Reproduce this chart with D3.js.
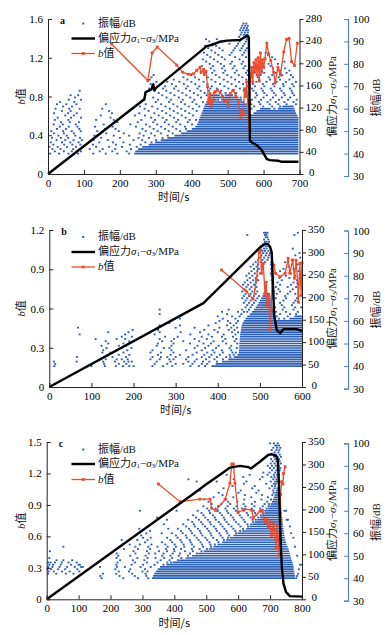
<!DOCTYPE html>
<html><head><meta charset="utf-8">
<script src="https://cdn.jsdelivr.net/npm/d3@7"></script>
<style>html,body{margin:0;padding:0;background:#fff;} svg{display:block}</style>
</head><body>
<svg id="chart" width="392" height="635"></svg>
<script>
// ---------------- DATA ----------------
const panelLabels = ["a", "b", "c"];
const timeTicksA = [0,100,200,300,400,500,600,700];
const timeTicksB = [0,100,200,300,400,500,600];
const timeTicksC = [0,100,200,300,400,500,600,700,800];
const bTicksA = [0,0.4,0.8,1.2,1.6];
const bTicksB = [0,0.3,0.6,0.9,1.2];
const bTicksC = [0,0.3,0.6,0.9,1.2,1.5];
const stressTicksA = [0,40,80,120,160,200,240,280];
const stressTicksB = [0,50,100,150,200,250,300,350];
const stressTicksC = [0,50,100,150,200,250,300,350];
const ampTicks = [30,40,50,60,70,80,90,100];
const legendLabels = ["振幅/dB", "偏应力", "b值"];

// deviatoric stress (t [s], MPa)
const stressA = [[0,0],[268,135],[272,148],[288,153],[293,162],[296,151],[300,155],[442,231],[460,234],[479,239],[498,241],[535,242],[549,248],[556,250],[559,246],[562,60],[570,56],[581,52],[595,43],[609,27],[618,25],[640,24],[650,22],[697,22]];
const stressB = [[0,0],[366,187],[430,246],[500,311],[512,319],[520,318],[524,313],[528,300],[531,230],[534,160],[540,127],[548,120],[556,129],[587,129],[600,125]];
const stressC = [[0,0],[460,235],[500,256],[543,277],[574,293],[606,297],[632,294],[640,291],[668,306],[694,321],[705,323],[719,319],[724,310],[727,270],[730,200],[733,130],[737,70],[742,35],[750,16],[762,7],[800,6]];

// b value (t [s], b)
const bValA = [[177,1.342],[278,0.965],[290,1.25],[304,1.31],[358,1.125],[375,1.05],[390,1.03],[405,1.035],[414,1.07],[423,1.10],[426,1.05],[433,1.08],[435,1.04],[440,1.06],[444,0.90],[447,0.73],[451,0.83],[454,0.695],[459,0.76],[465,0.85],[472,0.865],[479,0.84],[486,0.80],[491,0.745],[497,0.765],[502,0.695],[507,0.83],[516,0.865],[523,0.80],[530,0.745],[535,0.575],[539,0.66],[543,0.62],[547,0.88],[550,0.80],[553,0.95],[556,0.72],[559,0.47],[561,0.75],[564,1.00],[567,1.10],[570,0.95],[573,1.15],[576,1.05],[579,1.18],[582,1.02],[585,1.20],[588,0.96],[591,1.25],[594,1.05],[597,1.18],[600,1.10],[604,1.19],[609,1.35],[614,1.24],[620,1.17],[628,1.05],[632,0.94],[640,1.10],[647,1.02],[656,1.26],[664,1.39],[671,1.40],[678,1.16],[686,1.12],[694,1.35]];
const bValB = [[409,0.894],[465,0.74],[484,0.672],[492,0.818],[498,1.034],[502,1.047],[504,0.869],[508,0.945],[512,0.716],[515,0.80],[517,0.614],[521,0.70],[524,0.436],[527,0.588],[530,0.945],[533,0.93],[537,0.869],[548,0.843],[560,0.869],[567,0.984],[571,0.869],[578,0.971],[582,0.831],[586,0.97],[590,0.793],[591,0.652],[595,0.945],[598,0.70],[600,0.95]];
const bValC = [[350,1.10],[418,0.931],[480,0.955],[512,0.955],[517,0.868],[530,0.845],[559,0.953],[574,1.106],[580,1.29],[585,1.29],[590,1.106],[600,0.83],[621,0.86],[642,0.85],[648,0.78],[668,0.84],[676,0.85],[684,0.73],[689,0.76],[694,0.69],[699,0.74],[705,0.61],[710,0.72],[714,0.66],[718,0.49],[722,0.70],[726,0.55],[728,0.42],[733,1.0],[736,1.121],[740,1.10],[742,1.20],[747,1.264]];

// amplitude: dense rows of hits [dB, t start, t end]
const ampRowsA = [[40,240,697],[41,243,697],[42,250,697],[43,262,697],[44,280,697],[45,298,697],[46,314,697],[47,332,697],[48,352,697],[49,370,697],[50,386,697],[51,400,697],[52,410,697],[53,415,697],[54,418,697],[55,420,697],[56,422,697],[57,425,694],[58,428,560],[58,572,690],[59,430,558],[59,580,688],[60,432,556],[60,590,620],[60,640,686],[61,435,554],[61,652,684],[62,437,552],[63,440,548],[64,443,470],[64,482,540],[65,447,530],[66,452,478],[66,492,515]];
const ampRowsB = [[40,385,600],[41,395,600],[42,410,600],[43,425,600],[44,438,600],[45,447,600],[46,450,600],[47,450,600],[48,451,600],[49,451,600],[50,451,600],[51,452,600],[52,452,600],[53,453,600],[54,453,600],[55,454,600],[56,455,600],[57,456,600],[58,457,600],[59,459,600],[60,462,600],[61,466,535],[61,570,600],[62,470,534],[62,582,600],[63,476,533],[64,481,532],[65,486,531],[66,490,530],[67,494,529],[68,497,528],[69,500,527],[70,503,526],[71,506,525],[72,508,524]];
const ampRowsC = [[40,330,778],[41,333,778],[42,337,776],[43,342,776],[44,348,774],[45,355,774],[46,375,772],[47,395,770],[48,415,768],[49,435,766],[50,455,764],[51,475,762],[52,492,760],[53,508,758],[54,522,755],[55,535,752],[56,550,750],[57,562,748],[58,574,746],[59,585,745],[60,598,744],[61,612,743],[62,625,742],[63,636,741],[64,645,740],[65,652,739],[66,660,739],[67,668,738],[68,675,737],[69,682,737],[70,688,736],[71,694,736],[72,698,735],[73,702,735],[74,706,734],[75,709,734],[76,712,733],[77,714,733],[78,716,732],[79,718,732],[80,720,731]];

// amplitude: isolated hits, per dB level [dB, [t ...]]
const ampDotRowsA = [
[40,[6,31,57,84,126,161,193,226]],
[41,[19,44,66,92,144,179,219]],
[42,[12,35,70,116,152,187,231]],
[43,[4,27,53,78,134,170,206,247]],
[44,[15,45,68,90,125,189,228,258]],
[45,[8,39,62,85,143,181,210,271,288]],
[46,[24,48,71,94,127,166,238,262,301]],
[47,[11,36,56,89,148,200,252,281,319]],
[48,[29,52,76,129,183,226,266,297,333]],
[49,[17,44,72,162,211,255,287,314,347]],
[50,[9,42,66,91,137,197,272,305,336,368]],
[51,[25,50,87,159,188,263,294,326,357,384]],
[52,[33,58,82,131,180,245,283,315,347,381]],
[53,[16,41,77,155,229,273,304,336,368,401]],
[54,[36,61,86,193,250,293,325,357,389]],
[55,[19,57,134,183,260,298,330,362,394,412]],
[56,[27,64,92,174,287,319,351,383]],
[57,[48,72,147,242,270,308,340,372,404]],
[58,[17,56,80,178,254,296,329,361,393]],
[59,[39,63,170,280,318,350,382,414]],
[60,[21,59,88,151,269,305,339,371,403,566,630]],
[61,[42,67,256,290,327,360,392,421,574,599,624,646]],
[62,[25,51,79,161,272,315,349,381,413,566,591,617,641,664,690]],
[63,[33,73,300,337,370,402,431,587,611,634,658,683]],
[64,[58,92,268,306,342,375,407,474,568,593,619,643,668,692]],
[65,[75,293,330,364,396,426,536,577,600,626,651,674]],
[66,[63,84,318,352,385,417,442,484,522,551,582,609,634,659,685]],
[67,[270,308,341,374,406,436,462,494,524,553,579,602,629,656,680]],
[68,[88,297,329,363,395,425,448,482,513,545,572,598,624,650,678]],
[69,[282,320,351,384,416,452,470,502,534,568,594,620,646,674]],
[70,[290,326,356,389,421,456,491,523,554,576,602,630,656,684]],
[71,[286,314,345,378,410,444,479,511,543,570,598,626,654,680]],
[72,[302,332,366,399,433,466,500,532,580,608,636,662,690]],
[73,[283,350,388,420,455,489,521,552,588,618,646,672]],
[74,[288,377,409,445,477,510,541,584,614,642,682]],
[75,[294,398,435,467,499,531,556,592,624,652,676]],
[76,[426,457,488,520,551,602,634,664]],
[77,[432,463,493,525,555,596,646,672]],
[78,[453,485,514,544,592,626,660]],
[79,[428,459,490,519,549,600,620]],
[80,[450,481,508,539,614,640]],
[81,[440,472,512,543,590,658]],
[82,[431,462,492,533,604,632]],
[83,[452,484,521,551,624]],
[84,[443,474,506,541,612]],
[85,[434,465,511,546,606]],
[86,[455,486,516,535,550]],
[87,[446,477,520,539,554]],
[88,[437,468,525,543]],
[89,[458,505,529,547]],
[90,[449,480,533,551]],
[91,[440,470,537,553]],
[92,[532,549,555]],
[93,[536,545,552]],
[94,[539,548,556]],
[95,[535,543,551,557]],
[96,[538,546,554]],
[97,[541,549,556]],
[98,[544,552]]];

const ampDotRowsB = [
[40,[12,100,132,158,175,190,200,245,270,292,335,355,370]],
[41,[14,130,165,183,250,280,300,318,340,362,375]],
[42,[11,65,128,156,178,188,196,255,288,330,345,365,380,398]],
[43,[134,160,172,186,240,262,285,295,325,350,372,392,412]],
[44,[66,130,150,182,245,265,280,300,330,362,380,398,420,430]],
[45,[138,165,190,258,288,310,340,368,385,405,428,438]],
[46,[126,145,176,240,265,295,350,375,392,412,435,443]],
[47,[128,160,185,245,290,325,362,388,410,432]],
[48,[136,172,195,272,285,345,370,396,428,445]],
[49,[124,165,182,255,290,352,378,402,432]],
[50,[140,176,258,295,334,366,384,420,446]],
[51,[134,190,268,290,318,356,390,412,440]],
[52,[110,160,180,262,296,345,374,418,444]],
[53,[172,196,275,305,362,386,410,436]],
[54,[72,180,250,335,378,414,442]],
[55,[140,188,262,312,358,400,434,448]],
[56,[198,258,368,392,426,440]],
[57,[68,300,345,404,432,446]],
[58,[262,310,378,422,438]],
[59,[285,395,430,444]],
[60,[404,424,448]],
[61,[310,412,442,545,558]],
[62,[400,434,452,540,566]],
[63,[262,422,456,548,572,586]],
[64,[410,448,462,470,538,562,590]],
[65,[262,426,458,474,554,580]],
[66,[466,478,536,558,584,598]],
[67,[470,482,552,576]],
[68,[462,474,486,548,580,592]],
[69,[466,478,490,556,584]],
[70,[458,470,482,494,538,562,588]],
[71,[462,474,486,498,532,560,592]],
[72,[466,478,490,540,566,584]],
[73,[458,470,482,494,534,548,572]],
[74,[462,476,488,544,578]],
[75,[468,480,492,538,566,586]],
[76,[460,472,486,548,574,592]],
[77,[464,478,490,542,580]],
[78,[470,484,496,528,552,588]],
[79,[476,490,532,546,570]],
[80,[468,482,494,528,562,584]],
[81,[474,488,500,526,538,574]],
[82,[480,494,530,548,592]],
[83,[486,498,527,556,580]],
[84,[478,492,504,529,568]],
[85,[484,496,508,526,590]],
[86,[490,502,512,528,560]],
[87,[496,506,518,576]],
[88,[500,510,520,596]],
[89,[504,514,522,584]],
[90,[498,508,516,524,594]],
[91,[506,512,520]],
[92,[510,516,578]],
[93,[502,514,520]],
[94,[508,518]],
[95,[512,516,522]],
[96,[510,520]],
[97,[514,518]],
[98,[470,512,516,582]],
[99,[510,514,518,590]]];

const ampDotRowsC = [
[40,[172,240,286,318,782]],
[41,[168,228,276,312,784]],
[42,[4,30,60,84,176,218,268,310,788]],
[43,[6,22,48,72,102,226,258,300,316]],
[44,[3,14,36,58,96,215,262,308,790]],
[45,[5,18,40,64,88,108,113,167,220,245,294,326]],
[46,[8,20,44,76,100,104,218,266,302,338,366,794,798]],
[47,[5,12,26,47,68,94,222,276,314,347,378,390]],
[48,[31,52,80,230,270,306,357,385,411]],
[49,[8,219,284,316,341,368,393,422]],
[50,[224,262,310,362,388,414,443,785]],
[51,[219,278,320,340,366,395,418,449,471]],
[52,[10,272,314,352,377,400,433,458,485]],
[53,[242,286,324,374,399,421,455,479,502]],
[54,[52,278,318,347,379,405,431,461,490,515,778]],
[55,[260,292,328,372,401,429,455,487,513,527]],
[56,[308,361,393,423,451,482,510,538]],
[57,[235,284,316,388,419,448,476,503,533,555]],
[58,[302,326,377,410,439,470,497,522,551,568,773]],
[59,[296,405,436,463,488,516,545,572]],
[60,[312,360,392,426,455,483,513,541,566,593,766]],
[61,[324,421,451,480,508,533,563,591,606]],
[62,[290,381,411,446,474,503,530,557,585,615]],
[63,[437,464,496,524,551,579,607,631,762]],
[64,[367,428,461,489,514,545,570,601,629,641]],
[65,[456,484,511,539,564,593,621,647]],
[66,[377,443,477,505,530,558,587,617,645,655,752,756]],
[67,[346,468,497,527,555,583,611,639,663]],
[68,[459,491,521,549,577,605,631,657,671]],
[69,[485,512,543,569,599,627,653,677]],
[70,[292,407,473,509,537,565,593,618,649,673,685,745,750]],
[71,[503,529,560,587,612,643,669,689]],
[72,[491,537,567,595,623,651,677,695]],
[73,[517,547,575,617,643,683,697]],
[74,[423,507,569,597,653,691]],
[75,[494,563,619,673,703]],
[76,[523,585,641,693]],
[77,[551,621,675,707]],
[78,[539,601,657,711]],
[79,[480,608,664,710]],
[80,[554,644,698,714]],
[81,[582,652,706,716]],
[82,[618,688,712,718]],
[83,[470,533,626,702,716,722]],
[84,[444,586,668,710,720]],
[85,[616,676,704,714,724]],
[86,[564,636,692,712,722,728]],
[87,[679,698,716,726]],
[88,[706,720,730]],
[89,[700,712,724,732]],
[90,[693,706,718,728]],
[91,[702,714,726,734]],
[92,[708,720,730]],
[93,[703,716,728]],
[94,[712,724,734]],
[95,[706,718,730]],
[96,[714,726]],
[97,[705,720,729]],
[98,[710,722,732]],
[99,[716,721,728]],
[100,[700,712,724]]];

// ---------------- DRAW ----------------
const svg = d3.select("#chart");
svg.append("rect").attr("width",392).attr("height",635).attr("fill","#fff");

const BLUE = "#2c5fb6", AXBLUE = "#4f80c6", RED = "#ee4a2c";
const NUMFONT = "'Liberation Serif','Times New Roman',serif";
const CJKFONT = "'Noto Sans CJK SC','Liberation Serif',serif";

const panels = [
  {label:panelLabels[0], x0:48, x1:299.5, yT:19, yB:174, aT:19, aB:176, tMax:700, bMax:1.6, sMax:280,
   tt:timeTicksA, bt:bTicksA, st:stressTicksA, stress:stressA, bv:bValA, rows:ampRowsA, dotRows:ampDotRowsA, leg:[23.5,38.5,53.5]},
  {label:panelLabels[1], x0:49.3, x1:302, yT:230, yB:387, aT:230.5, aB:388.7, tMax:600, bMax:1.2, sMax:350,
   tt:timeTicksB, bt:bTicksB, st:stressTicksB, stress:stressB, bv:bValB, rows:ampRowsB, dotRows:ampDotRowsB, leg:[237,252,267]},
  {label:panelLabels[2], x0:46.7, x1:302, yT:442, yB:599.3, aT:443.3, aB:600.7, tMax:800, bMax:1.5, sMax:350,
   tt:timeTicksC, bt:bTicksC, st:stressTicksC, stress:stressC, bv:bValC, rows:ampRowsC, dotRows:ampDotRowsC, leg:[449.5,464,479.5]}
];

panels.forEach(p => {
  const g = svg.append("g");
  const x = d3.scaleLinear().domain([0,p.tMax]).range([p.x0,p.x1]);
  const yb = d3.scaleLinear().domain([0,p.bMax]).range([p.yB,p.yT]);
  const ys = d3.scaleLinear().domain([0,p.sMax]).range([p.yB,p.yT]);
  const ya = d3.scaleLinear().domain([30,100]).range([p.aB,p.aT]);

  // amplitude rows
  g.append("g").selectAll("line").data(p.rows).join("line")
    .attr("x1",d=>x(d[1])).attr("x2",d=>x(d[2]))
    .attr("y1",d=>ya(d[0])).attr("y2",d=>ya(d[0]))
    .attr("stroke",BLUE).attr("stroke-width",1.7);
  // amplitude isolated dots
  const dots = p.dotRows.flatMap(r => r[1].map(t => [t, r[0]]));
  g.append("g").selectAll("rect").data(dots).join("rect")
    .attr("x",d=>x(d[0])-1).attr("y",d=>ya(d[1])-0.9)
    .attr("width",2).attr("height",1.8).attr("fill",BLUE);

  // b value line
  g.append("path").datum(p.bv)
    .attr("d", d3.line().x(d=>x(d[0])).y(d=>yb(d[1])))
    .attr("fill","none").attr("stroke",RED).attr("stroke-width",1.3);
  g.append("g").selectAll("rect").data(p.bv).join("rect")
    .attr("x",d=>x(d[0])-1.4).attr("y",d=>yb(d[1])-1.4)
    .attr("width",2.8).attr("height",2.8).attr("fill",RED);

  // stress line
  g.append("path").datum(p.stress)
    .attr("d", d3.line().x(d=>x(d[0])).y(d=>ys(d[1])))
    .attr("fill","none").attr("stroke","#000").attr("stroke-width",2.4).attr("stroke-linejoin","round");

  // axes
  const axB = g.append("g").attr("transform",`translate(0,${p.yB})`)
    .call(d3.axisBottom(x).tickValues(p.tt).tickSizeInner(-4).tickSizeOuter(0).tickPadding(6));
  const axL = g.append("g").attr("transform",`translate(${p.x0},0)`)
    .call(d3.axisLeft(yb).tickValues(p.bt).tickFormat(d=>d===0?"0":d3.format(".1f")(d)).tickSizeInner(-4).tickSizeOuter(0).tickPadding(5));
  const axR = g.append("g").attr("transform",`translate(${p.x1},0)`)
    .call(d3.axisRight(ys).tickValues(p.st).tickSizeInner(4).tickSizeOuter(0).tickPadding(2));
  const axA = g.append("g").attr("transform",`translate(348,0)`)
    .call(d3.axisRight(ya).tickValues(ampTicks).tickSizeInner(-4).tickSizeOuter(-4).tickPadding(5));
  [axB,axL,axR,axA].forEach(a=>{
    a.selectAll("text").attr("font-family",NUMFONT).attr("font-size",11).attr("fill","#000");
    a.selectAll("line").attr("stroke","#222");
    a.select(".domain").attr("stroke","#222").attr("stroke-width",1);
  });
  axA.selectAll("line").attr("stroke",AXBLUE);
  axA.select(".domain").attr("stroke",AXBLUE).attr("stroke-width",1.2);
  axL.selectAll(".tick text").attr("x",-5);
  axB.selectAll(".tick text").attr("dy","0.62em");
  axR.selectAll(".tick text").attr("dy","0.25em");
  // the zero label of the stress axis sits just right of the last time label
  axR.selectAll(".tick").filter(d=>d===0).select("text").attr("x",9.5).attr("dy","0.1em");

  // panel label
  g.append("text").attr("x",p.x0+12).attr("y",p.yT+5).text(p.label)
    .attr("font-family",NUMFONT).attr("font-size",10).attr("font-weight","bold").attr("fill","#111");

  // axis titles
  g.append("text").attr("transform",`translate(22,${(p.yT+p.yB)/2}) rotate(-90)`)
    .attr("text-anchor","middle").attr("dominant-baseline","middle")
    .attr("font-size",11).attr("fill","#111")
    .call(t=>{t.append("tspan").attr("font-family",NUMFONT).attr("font-style","italic").text("b");
              t.append("tspan").attr("font-family",CJKFONT).text("值");});
  g.append("text").attr("x",(p.x0+p.x1)/2).attr("y",p.yB+24.5).attr("dominant-baseline","middle")
    .attr("text-anchor","middle").attr("font-size",11).attr("fill","#111")
    .attr("font-family",CJKFONT).text("时间/s");
  const st = g.append("text").attr("transform",`translate(333,${(p.yT+p.yB)/2}) rotate(-90)`)
    .attr("text-anchor","middle").attr("dominant-baseline","middle").attr("font-size",11).attr("fill","#111");
  st.append("tspan").attr("font-family",CJKFONT).text("偏应力");
  st.append("tspan").attr("font-family",NUMFONT).attr("font-style","italic").text("σ");
  st.append("tspan").attr("font-family",NUMFONT).attr("font-size",7).attr("dy",2).text("1");
  st.append("tspan").attr("font-family",NUMFONT).attr("dy",-2).text("−");
  st.append("tspan").attr("font-family",NUMFONT).attr("font-style","italic").text("σ");
  st.append("tspan").attr("font-family",NUMFONT).attr("font-size",7).attr("dy",2).text("3");
  st.append("tspan").attr("font-family",NUMFONT).attr("dy",-2).text("/MPa");
  g.append("text").attr("transform",`translate(377,${(p.aT+p.aB)/2}) rotate(-90)`)
    .attr("text-anchor","middle").attr("dominant-baseline","middle").attr("font-size",11).attr("fill","#111")
    .call(t=>{t.append("tspan").attr("font-family",CJKFONT).text("振幅");
              t.append("tspan").attr("font-family",NUMFONT).text("/dB");});

  // legend
  const lx0 = 71.5, lx1 = 95, tx = 98;
  g.append("rect").attr("x",(lx0+lx1)/2-1).attr("y",p.leg[0]-1).attr("width",2).attr("height",2).attr("fill",BLUE);
  g.append("text").attr("x",tx).attr("y",p.leg[0]).attr("dominant-baseline","middle").attr("font-size",11).attr("fill","#111")
    .call(t=>{t.append("tspan").attr("font-family",CJKFONT).text("振幅");
              t.append("tspan").attr("font-family",NUMFONT).text("/dB");});
  g.append("line").attr("x1",lx0).attr("x2",lx1).attr("y1",p.leg[1]).attr("y2",p.leg[1]).attr("stroke","#000").attr("stroke-width",2.4);
  const lt = g.append("text").attr("x",tx).attr("y",p.leg[1]).attr("dominant-baseline","middle").attr("font-size",11).attr("fill","#111");
  lt.append("tspan").attr("font-family",CJKFONT).text(legendLabels[1]);
  lt.append("tspan").attr("font-family",NUMFONT).attr("font-style","italic").text("σ");
  lt.append("tspan").attr("font-family",NUMFONT).attr("font-size",7).attr("dy",2).text("1");
  lt.append("tspan").attr("font-family",NUMFONT).attr("dy",-2).text("−");
  lt.append("tspan").attr("font-family",NUMFONT).attr("font-style","italic").text("σ");
  lt.append("tspan").attr("font-family",NUMFONT).attr("font-size",7).attr("dy",2).text("3");
  lt.append("tspan").attr("font-family",NUMFONT).attr("dy",-2).text("/MPa");
  g.append("line").attr("x1",lx0).attr("x2",lx1).attr("y1",p.leg[2]).attr("y2",p.leg[2]).attr("stroke",RED).attr("stroke-width",1.3);
  g.append("rect").attr("x",(lx0+lx1)/2-1.4).attr("y",p.leg[2]-1.4).attr("width",2.8).attr("height",2.8).attr("fill",RED);
  g.append("text").attr("x",tx).attr("y",p.leg[2]).attr("dominant-baseline","middle").attr("font-size",11).attr("fill","#111")
    .call(t=>{t.append("tspan").attr("font-family",NUMFONT).attr("font-style","italic").text("b");
              t.append("tspan").attr("font-family",CJKFONT).text("值");});
});
</script></body></html>
